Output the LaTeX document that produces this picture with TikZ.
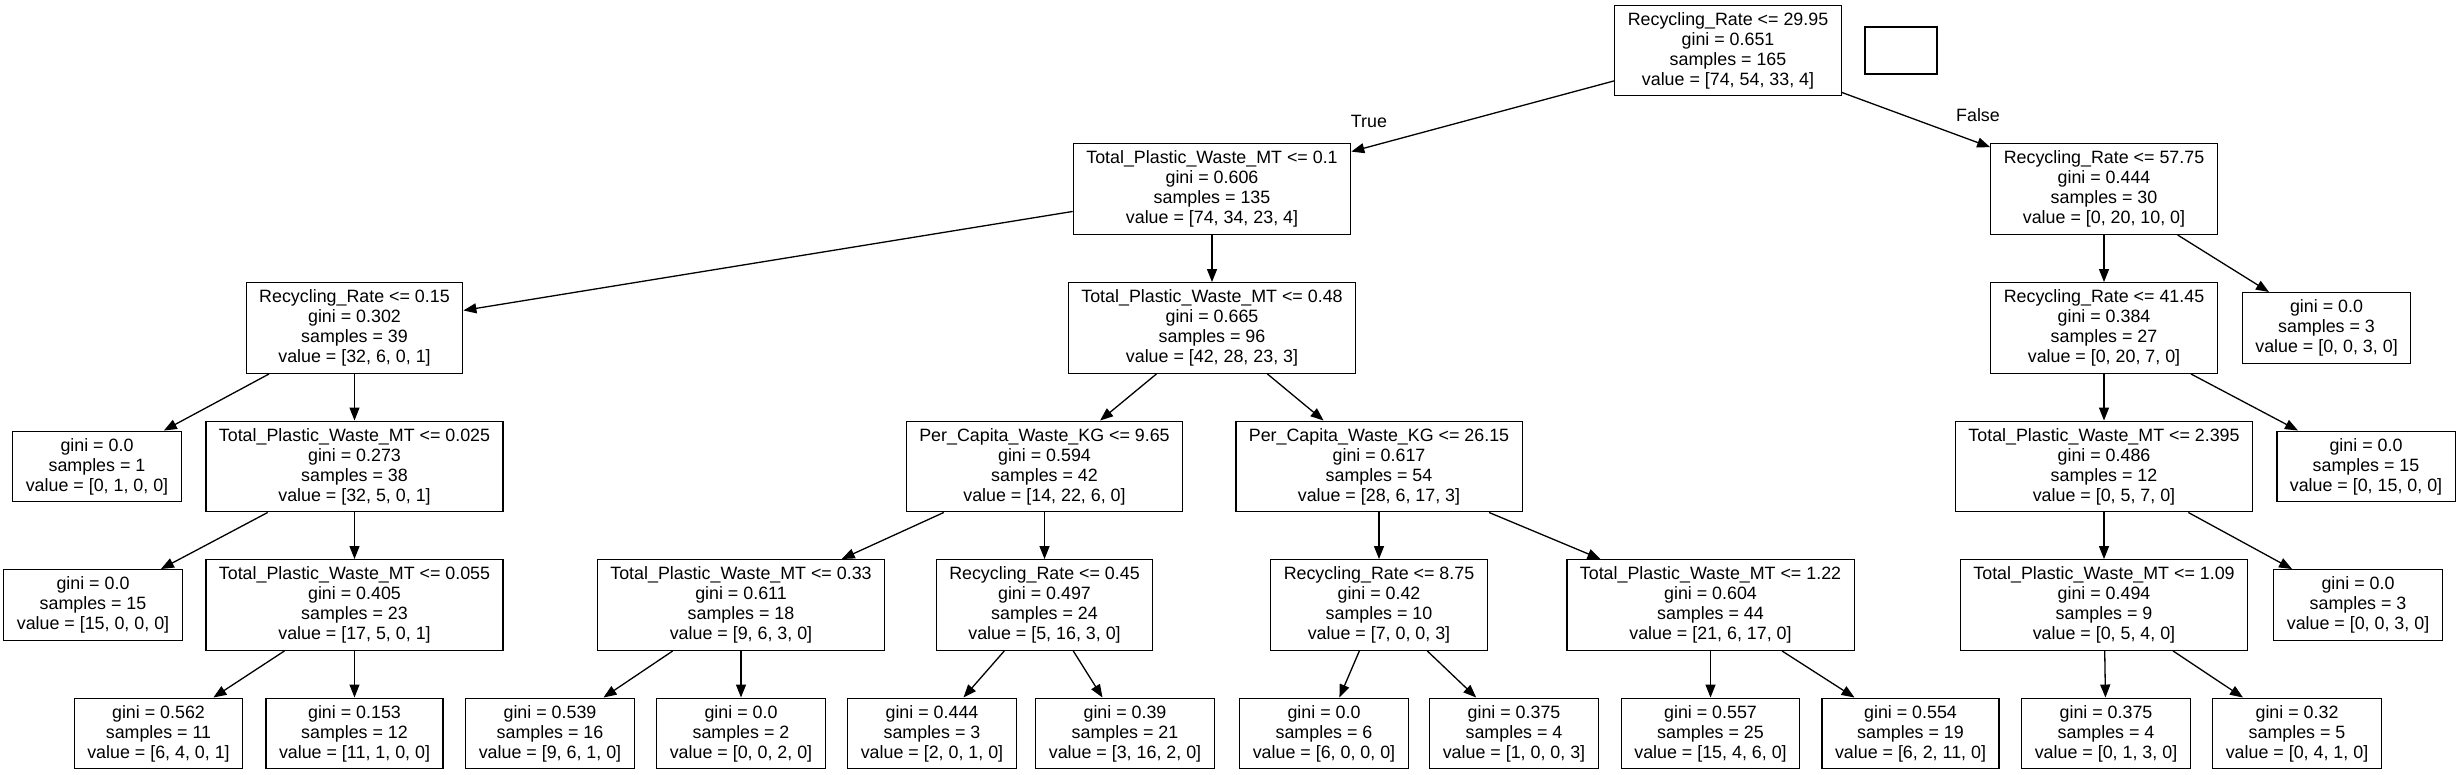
\documentclass[tikz,border=0pt]{standalone}
\usepackage{fontspec}
\setmainfont{Liberation Sans}
\usetikzlibrary{arrows.meta}

\begin{document}
\begin{tikzpicture}[x=1pt,y=-1pt,
    box/.style={draw, line width=1.3pt, align=center, inner xsep=13pt, inner ysep=7pt,
      font=\fontsize{17.85}{20}\selectfont},
    arr/.style={line width=1.3pt, -{Triangle[length=13pt,width=10pt]}},
    lbl/.style={font=\fontsize{17.85}{20}\selectfont}]
   %\draw[help lines] (0,0) grid (2461,775);
    \useasboundingbox (0,0) rectangle (2461,775);
    % level 0
    \node[box] (rr2995) at (1728,50.5) {Recycling\_Rate <= 29.95\\gini = 0.651\\samples = 165\\value = [74, 54, 33, 4]};
    \node[draw, line width=1.3pt, minimum width=72pt, minimum height=47pt] (blank) at (1901,50.5) {};
    % level 1
    \node[box] (tpw01) at (1212,189) {Total\_Plastic\_Waste\_MT <= 0.1\\gini = 0.606\\samples = 135\\value = [74, 34, 23, 4]};
    \node[box] (rr5775) at (2104,189) {Recycling\_Rate <= 57.75\\gini = 0.444\\samples = 30\\value = [0, 20, 10, 0]};
    % level 2
    \node[box] (rr015) at (354.5,328) {Recycling\_Rate <= 0.15\\gini = 0.302\\samples = 39\\value = [32, 6, 0, 1]};
    \node[box] (tpw048) at (1212,328) {Total\_Plastic\_Waste\_MT <= 0.48\\gini = 0.665\\samples = 96\\value = [42, 28, 23, 3]};
    \node[box] (rr4145) at (2104,328) {Recycling\_Rate <= 41.45\\gini = 0.384\\samples = 27\\value = [0, 20, 7, 0]};
    \node[box] (leafA) at (2326.5,328) {gini = 0.0\\samples = 3\\value = [0, 0, 3, 0]};
    % level 3
    \node[box] (leafB) at (97,466.5) {gini = 0.0\\samples = 1\\value = [0, 1, 0, 0]};
    \node[box] (tpw0025) at (354.5,466.5) {Total\_Plastic\_Waste\_MT <= 0.025\\gini = 0.273\\samples = 38\\value = [32, 5, 0, 1]};
    \node[box] (pc965) at (1044.5,466.5) {Per\_Capita\_Waste\_KG <= 9.65\\gini = 0.594\\samples = 42\\value = [14, 22, 6, 0]};
    \node[box] (pc2615) at (1379,466.5) {Per\_Capita\_Waste\_KG <= 26.15\\gini = 0.617\\samples = 54\\value = [28, 6, 17, 3]};
    \node[box] (tpw2395) at (2104,466.5) {Total\_Plastic\_Waste\_MT <= 2.395\\gini = 0.486\\samples = 12\\value = [0, 5, 7, 0]};
    \node[box] (leafC) at (2366,466.5) {gini = 0.0\\samples = 15\\value = [0, 15, 0, 0]};
    % level 4
    \node[box] (leafD) at (93,605) {gini = 0.0\\samples = 15\\value = [15, 0, 0, 0]};
    \node[box] (tpw0055) at (354.5,605) {Total\_Plastic\_Waste\_MT <= 0.055\\gini = 0.405\\samples = 23\\value = [17, 5, 0, 1]};
    \node[box] (tpw033) at (741,605) {Total\_Plastic\_Waste\_MT <= 0.33\\gini = 0.611\\samples = 18\\value = [9, 6, 3, 0]};
    \node[box] (rr045) at (1044.5,605) {Recycling\_Rate <= 0.45\\gini = 0.497\\samples = 24\\value = [5, 16, 3, 0]};
    \node[box] (rr875) at (1379,605) {Recycling\_Rate <= 8.75\\gini = 0.42\\samples = 10\\value = [7, 0, 0, 3]};
    \node[box] (tpw122) at (1710.5,605) {Total\_Plastic\_Waste\_MT <= 1.22\\gini = 0.604\\samples = 44\\value = [21, 6, 17, 0]};
    \node[box] (tpw109) at (2104,605) {Total\_Plastic\_Waste\_MT <= 1.09\\gini = 0.494\\samples = 9\\value = [0, 5, 4, 0]};
    \node[box] (leafE) at (2358,605) {gini = 0.0\\samples = 3\\value = [0, 0, 3, 0]};
    % level 5
    \node[box] (g562) at (158.5,733.5) {gini = 0.562\\samples = 11\\value = [6, 4, 0, 1]};
    \node[box] (g153) at (354.5,733.5) {gini = 0.153\\samples = 12\\value = [11, 1, 0, 0]};
    \node[box] (g539) at (550,733.5) {gini = 0.539\\samples = 16\\value = [9, 6, 1, 0]};
    \node[box] (g0s2) at (741,733.5) {gini = 0.0\\samples = 2\\value = [0, 0, 2, 0]};
    \node[box] (g444) at (932,733.5) {gini = 0.444\\samples = 3\\value = [2, 0, 1, 0]};
    \node[box] (g39) at (1125,733.5) {gini = 0.39\\samples = 21\\value = [3, 16, 2, 0]};
    \node[box] (g0s6) at (1324,733.5) {gini = 0.0\\samples = 6\\value = [6, 0, 0, 0]};
    \node[box] (g375) at (1514,733.5) {gini = 0.375\\samples = 4\\value = [1, 0, 0, 3]};
    \node[box] (g557) at (1710.5,733.5) {gini = 0.557\\samples = 25\\value = [15, 4, 6, 0]};
    \node[box] (g554) at (1910.5,733.5) {gini = 0.554\\samples = 19\\value = [6, 2, 11, 0]};
    \node[box] (g375b) at (2106,733.5) {gini = 0.375\\samples = 4\\value = [0, 1, 3, 0]};
    \node[box] (g32) at (2297,733.5) {gini = 0.32\\samples = 5\\value = [0, 4, 1, 0]};
    % edges
    \draw[arr] (rr2995) -- (tpw01);
    \draw[arr] (rr2995) -- (rr5775);
    \node[lbl] (lblTrue) at (1369,121) {True};
    \node[lbl] (lblFalse) at (1978,115) {False};
    \draw[arr] (tpw01) -- (rr015);
    \draw[arr] (tpw01) -- (tpw048);
    \draw[arr] (rr015) -- (leafB);
    \draw[arr] (rr015) -- (tpw0025);
    \draw[arr] (tpw0025) -- (leafD);
    \draw[arr] (tpw0025) -- (tpw0055);
    \draw[arr] (tpw0055) -- (g562);
    \draw[arr] (tpw0055) -- (g153);
    \draw[arr] (tpw048) -- (pc965);
    \draw[arr] (tpw048) -- (pc2615);
    \draw[arr] (pc965) -- (tpw033);
    \draw[arr] (pc965) -- (rr045);
    \draw[arr] (tpw033) -- (g539);
    \draw[arr] (tpw033) -- (g0s2);
    \draw[arr] (rr045) -- (g444);
    \draw[arr] (rr045) -- (g39);
    \draw[arr] (pc2615) -- (rr875);
    \draw[arr] (pc2615) -- (tpw122);
    \draw[arr] (rr875) -- (g0s6);
    \draw[arr] (rr875) -- (g375);
    \draw[arr] (tpw122) -- (g557);
    \draw[arr] (tpw122) -- (g554);
    \draw[arr] (rr5775) -- (rr4145);
    \draw[arr] (rr5775) -- (leafA);
    \draw[arr] (rr4145) -- (tpw2395);
    \draw[arr] (rr4145) -- (leafC);
    \draw[arr] (tpw2395) -- (tpw109);
    \draw[arr] (tpw2395) -- (leafE);
    \draw[arr] (tpw109) -- (g375b);
    \draw[arr] (tpw109) -- (g32);
\end{tikzpicture}
\end{document}
